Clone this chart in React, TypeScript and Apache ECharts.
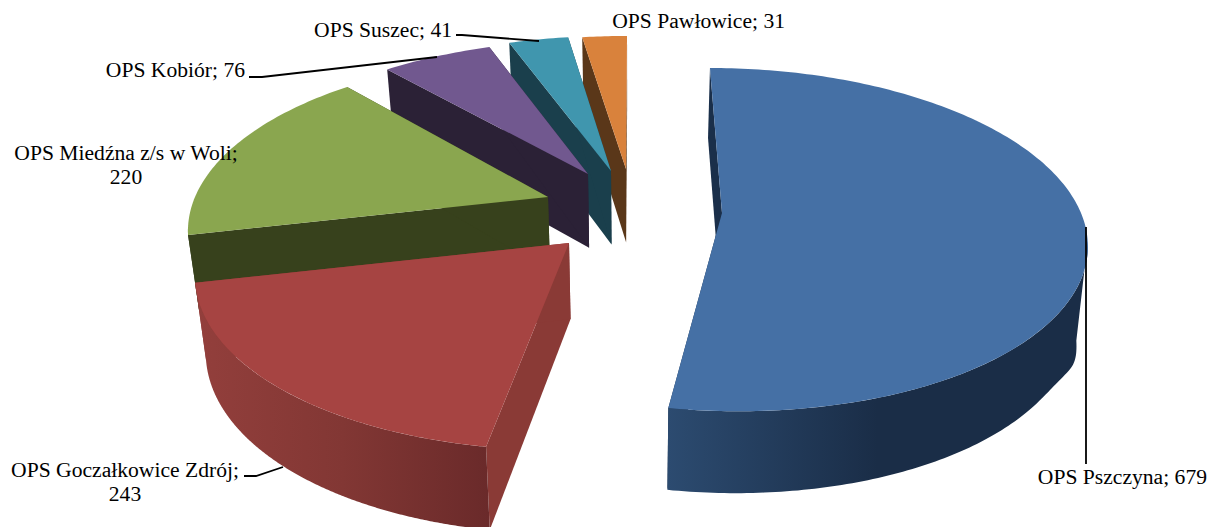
import React, { useEffect, useRef } from "react";
import * as echarts from "echarts";

const categories = [
  "OPS Pszczyna",
  "OPS Goczałkowice Zdrój",
  "OPS Miedźna z/s w Woli",
  "OPS Kobiór",
  "OPS Suszec",
  "OPS Pawłowice",
];
const values = [679, 243, 220, 76, 41, 31];

const topColors = ["#4570a5", "#a64442", "#8aa64f", "#71588f", "#4096ae", "#d9823c"];
const radialColors = ["#1a2f4a", "#8a3a36", "#37411c", "#2b2136", "#1a3f4c", "#5a3719"];
const wallStops = [
  [[0, "#2c4b70"], [0.5, "#1a2d47"], [1, "#1a2d47"]],
  [[0, "#933f3c"], [0.5, "#823734"], [1, "#6a2a2a"]],
  [[0, "#37411c"], [1, "#37411c"]],
  [[0, "#2b2136"], [1, "#2b2136"]],
  [[0, "#1a3f4c"], [1, "#1a3f4c"]],
  [[0, "#5a3719"], [1, "#5a3719"]],
];

// Perspective geometry of each exploded slice: apex, radii, foreshortening, skew
const geometry = [
  { ax: 722, ay: 213, rx: 359, ry: 167.5, k: 0.155, sk: -13.9 },
  { ax: 569, ay: 243, rx: 368, ry: 175, k: 0.155, sk: 9.7 },
  { ax: 548, ay: 197, rx: 353, ry: 166, k: 0.177, sk: 7.2 },
  { ax: 588, ay: 174, rx: 352, ry: 158, k: 0.18, sk: 5.8 },
  { ax: 611, ay: 171, rx: 354, ry: 159.5, k: 0.18, sk: 2.8 },
  { ax: 626, ay: 169, rx: 351, ry: 157, k: 0.18, sk: 1.2 },
];
const labelPos = [
  { x: 1207, y: 477, align: "right", wrap: false },
  { x: 125, y: 482, align: "center", wrap: true },
  { x: 126, y: 165, align: "center", wrap: true },
  { x: 245, y: 70, align: "right", wrap: false },
  { x: 452, y: 30, align: "right", wrap: false },
  { x: 785, y: 21, align: "right", wrap: false },
];
const leaders: number[][][] = [
  [[1086, 227], [1086, 464]],
  [[244, 476], [256, 476], [283, 467]],
  [],
  [[249, 77], [262, 77], [437, 57]],
  [[456, 35], [462, 35], [539, 41]],
  [],
];

const total = values.reduce((a, b) => a + b, 0);
const RAD = Math.PI / 180;
const FONT = '21.6px "Liberation Serif", serif';

function top(g: any, deg: number): number[] {
  const s = Math.sin(deg * RAD);
  const c = Math.cos(deg * RAD);
  const d = 1 + g.k * c;
  return [g.ax + (g.rx * s + g.sk * c) / d, g.ay - (g.ry * c) / d];
}
function under(p: number[]): number[] {
  const t = Math.max(0, p[0] - 1040) / 48;
  const bump = t * t * t * t * 24;
  return [p[0] + (632 - p[0]) * 0.025, p[1] + 75 + 0.035 * (p[1] - 213) + bump];
}

function renderItem(params: any, api: any) {
  const i = params.dataIndex;
  const value = api.value(0);
  const before = values.slice(0, i).reduce((a, b) => a + b, 0);
  const a0 = (before / total) * 360;
  const a1 = a0 + (value / total) * 360;
  const g = geometry[i];
  const base = (values.length - i) * 10;
  const apex = [g.ax, g.ay];
  const arc: number[][] = [];
  const n = Math.max(12, Math.ceil(a1 - a0));
  for (let j = 0; j <= n; j++) arc.push(top(g, a0 + ((a1 - a0) * j) / n));
  const children: any[] = [];
  const poly = (points: number[][], fill: any, z2: number) => ({
    type: "polygon",
    z2,
    shape: { points },
    style: { fill, stroke: null },
  });
  // radial walls
  children.push(
    poly([arc[0], apex, under(apex), under(arc[0])], radialColors[i], base),
    poly([arc[n], apex, under(apex), under(arc[n])], radialColors[i], base)
  );
  // outer rim, only where it faces the viewer (from the silhouette tangent on)
  const front: number[][] = [];
  for (let j = 0; j <= 240; j++) {
    const d = a0 + ((a1 - a0) * j) / 240;
    if (Math.cos(d * RAD) < -g.k) front.push(top(g, d));
  }
  if (front.length > 1) {
    const rim = front.concat(front.slice().reverse().map(under));
    const stops = wallStops[i].map((s: any) => ({ offset: s[0], color: s[1] }));
    children.push(poly(rim, new echarts.graphic.LinearGradient(0, 0, 1, 0, stops), base + 1));
  }
  // top face
  children.push(poly([apex].concat(arc), topColors[i], base + 2));
  // leader
  if (leaders[i].length) {
    children.push({
      type: "polyline",
      z2: 200,
      shape: { points: leaders[i] },
      style: { stroke: "#000", lineWidth: 1.8, fill: null },
    });
  }
  // label
  const lp = labelPos[i];
  children.push({
    type: "text",
    z2: 300,
    x: lp.x,
    y: lp.y,
    style: {
      text: categories[i] + ";" + (lp.wrap ? "\n" : " ") + value,
      font: FONT,
      fill: "#000",
      align: lp.align,
      verticalAlign: "middle",
      lineHeight: 24,
    },
  });
  return { type: "group", children };
}

export default function App() {
  const ref = useRef<HTMLDivElement>(null);
  useEffect(() => {
    document.body.style.margin = "0";
    const chart = echarts.init(ref.current!, undefined, { renderer: "svg" });
    chart.setOption({
      animation: false,
      backgroundColor: "#ffffff",
      series: [
        {
          type: "custom",
          coordinateSystem: "none",
          silent: true,
          renderItem,
          data: values.map((v, i) => ({ name: categories[i], value: [v] })),
        },
      ],
    });
    return () => chart.dispose();
  }, []);
  return <div ref={ref} style={{ width: 1207, height: 527, overflow: "hidden" }} />;
}
